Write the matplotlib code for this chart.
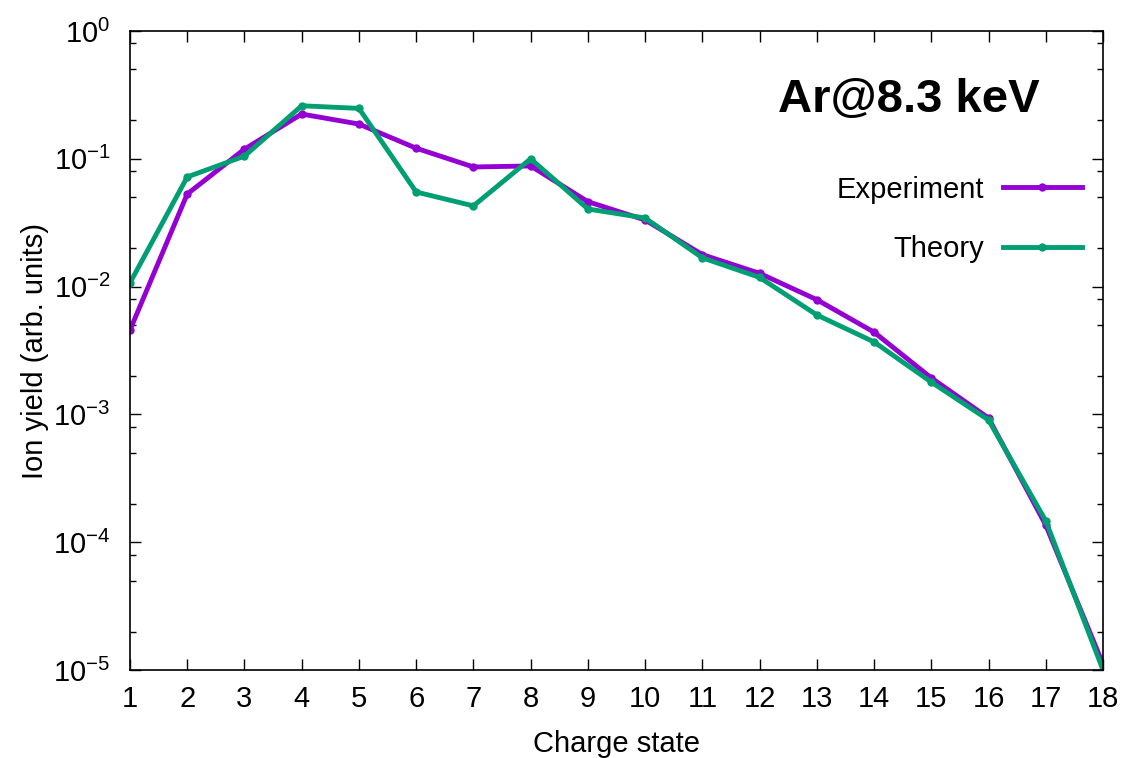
import numpy as np
import matplotlib
matplotlib.use('Agg')
import matplotlib.pyplot as plt
from matplotlib.ticker import LogLocator, NullFormatter

# ---------------------------- Данные ----------------------------------

charge = list(range(1, 19))

experiment = [4.57e-3, 0.053, 0.119, 0.224, 0.187, 0.121, 0.0863, 0.0879,
              0.0462, 0.0332, 0.0178, 0.0127, 7.9e-3, 4.4e-3, 1.93e-3,
              9.37e-4, 1.36e-4, 1.11e-5]

theory = [0.0107, 0.0721, 0.105, 0.260, 0.248, 0.055, 0.0428, 0.100,
          0.0405, 0.0344, 0.0168, 0.0118, 6.0e-3, 3.69e-3, 1.79e-3,
          9.04e-4, 1.47e-4, 1.0e-5]

PURPLE = '#9400d3'
GREEN = '#009e73'
FS = 21

# ---------------------------- График ----------------------------------

plt.rcParams['font.family'] = ['Liberation Sans', 'DejaVu Sans']
plt.rcParams['mathtext.fontset'] = 'custom'
plt.rcParams['mathtext.rm'] = 'Liberation Sans'
plt.rcParams['mathtext.it'] = 'Liberation Sans'

fig = plt.figure(figsize=(11.27, 7.58), dpi=100)
ax = fig.add_axes([130/1127, 1-670/758, 973/1127, 639/758])

ax.plot(charge, experiment, color=PURPLE, lw=3.5, marker='o', ms=5, label='Experiment')
ax.plot(charge, theory, color=GREEN, lw=3.5, marker='o', ms=5, label='Theory')

ax.set_yscale('log')
ax.set_xlim(1, 18)
ax.set_ylim(1e-5, 1)
ax.set_xticks(charge)
ax.yaxis.set_major_locator(LogLocator(base=10, numticks=10))
ax.yaxis.set_minor_locator(LogLocator(base=10, subs=[2, 5, 8], numticks=10))
ax.yaxis.set_minor_formatter(NullFormatter())

ax.tick_params(which='both', direction='in', top=True, right=True, width=1.0)
ax.tick_params(which='major', length=8, labelsize=FS)
ax.tick_params(axis='x', which='major', pad=11)
ax.tick_params(axis='y', which='major', pad=14)
ax.tick_params(which='minor', length=4)
for s in ax.spines.values():
    s.set_linewidth(1.2)

ax.set_xlabel('Charge state', fontsize=FS, labelpad=12)
ax.set_ylabel('Ion yield (arb. units)', fontsize=FS, labelpad=3)

ax.text(0.8006, 0.892, 'Ar@8.3 keV', transform=ax.transAxes, ha='center', va='center',
        fontsize=34, fontweight='bold')

ax.legend(loc='upper right', bbox_to_anchor=(0.990, 0.792), frameon=False,
          markerfirst=False, fontsize=FS, handlelength=2.7, labelspacing=1.07,
          handletextpad=0.65, borderaxespad=0)

fig.savefig('out.png', dpi=100)
